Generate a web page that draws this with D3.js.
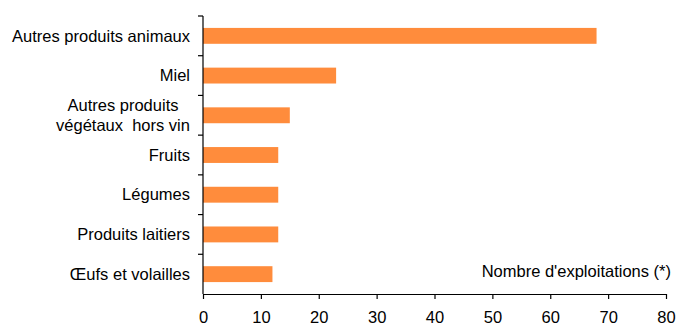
<!DOCTYPE html>
<html>
<head>
<meta charset="utf-8">
<script src="https://cdn.jsdelivr.net/npm/d3@7"></script>
<style>
  html, body { margin: 0; padding: 0; background: #fff; }
  svg { display: block; font-family: Arial, "Liberation Sans", sans-serif; }
</style>
</head>
<body>
<svg id="chart" width="676" height="327"></svg>
<script>
// Farm counts by product category
const categories = [
  ["Autres produits animaux"],
  ["Miel"],
  ["Autres produits", "végétaux  hors vin"],
  ["Fruits"],
  ["Légumes"],
  ["Produits laitiers"],
  ["Œufs et volailles"]
];
const values = [68, 23, 15, 13, 13, 13, 12];
const xTicks = [0, 10, 20, 30, 40, 50, 60, 70, 80];
const xTitle = "Nombre d'exploitations (*)";

const svg = d3.select("#chart");
const FONT = 16.5;
const plotTop = 16, plotBottom = 294;

const x = d3.scaleLinear().domain([0, 80]).range([203, 666]);
const y = d3.scaleBand()
  .domain(d3.range(categories.length))
  .range([plotTop, plotBottom])
  .paddingInner(0.6)
  .paddingOuter(0.3);

// Bars
svg.append("g").selectAll("rect")
  .data(values)
  .join("rect")
  .attr("x", x(0))
  .attr("y", (d, i) => y(i))
  .attr("width", d => x(d) - x(0))
  .attr("height", y.bandwidth())
  .attr("fill", "#ff8c3c");

// Category axis: ticks between categories
const step = (plotBottom - plotTop) / categories.length;
const yAxis = svg.append("g");
yAxis.append("line")
  .attr("x1", x(0)).attr("x2", x(0))
  .attr("y1", plotTop).attr("y2", plotBottom)
  .attr("stroke", "#000").attr("stroke-width", 1.2);
yAxis.selectAll("line.tick")
  .data(d3.range(categories.length))
  .join("line")
  .attr("class", "tick")
  .attr("x1", x(0) - 5).attr("x2", x(0))
  .attr("y1", i => plotTop + i * step)
  .attr("y2", i => plotTop + i * step)
  .attr("stroke", "#000").attr("stroke-width", 1.2);

// Category labels
const labels = svg.append("g")
  .attr("font-size", FONT)
  .attr("fill", "#000");
categories.forEach((lines, i) => {
  const cy = y(i) + y.bandwidth() / 2;
  if (lines.length === 1) {
    labels.append("text")
      .attr("x", 190)
      .attr("y", cy)
      .attr("dy", "0.35em")
      .attr("text-anchor", "end")
      .text(lines[0]);
  } else {
    const t = labels.append("text")
      .attr("text-anchor", "middle")
      .attr("xml:space", "preserve")
      .style("white-space", "pre");
    lines.forEach((ln, k) => {
      t.append("tspan")
        .attr("x", 123)
        .attr("y", cy + (k - (lines.length - 1) / 2) * 20)
        .attr("dy", "0.35em")
        .text(ln);
    });
  }
});

// Value axis
const xAxis = d3.axisBottom(x).tickValues(xTicks).tickSize(5).tickSizeOuter(0).tickPadding(12);
const gx = svg.append("g")
  .attr("transform", `translate(0,${plotBottom})`)
  .call(xAxis);
gx.select(".domain").attr("stroke", "#000").attr("stroke-width", 1.2);
gx.selectAll(".tick line").attr("stroke", "#000").attr("stroke-width", 1.2);
gx.selectAll(".tick text")
  .attr("font-size", FONT)
  .attr("font-family", "Arial, 'Liberation Sans', sans-serif")
  .attr("fill", "#000");

// Axis title
svg.append("text")
  .attr("x", 671)
  .attr("y", 277)
  .attr("text-anchor", "end")
  .attr("font-size", FONT)
  .attr("fill", "#000")
  .text(xTitle);
</script>
</body>
</html>
